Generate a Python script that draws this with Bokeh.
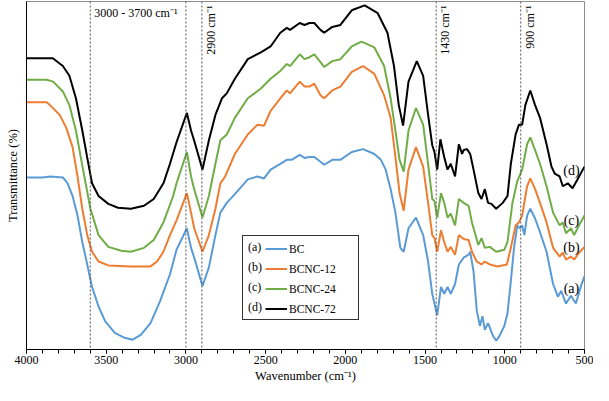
import math
from bokeh.plotting import figure
from bokeh.models import (Range1d, Span, Label, Legend, LegendItem,
                          FixedTicker, SingleIntervalTicker)
from bokeh.embed import file_html
from bokeh.resources import INLINE

FONT = "Liberation Serif"

# ---------------- data (wavenumber cm-1, transmittance a.u.) ----------------
series_names = ["BC", "BCNC-12", "BCNC-24", "BCNC-72"]
series_tags = ["(a)", "(b)", "(c)", "(d)"]
series_colors = ["#5B9BD5", "#ED7D31", "#70AD47", "#000000"]

bc = [(4000,176),(3900,176),(3850,177),(3772,176),(3742,170),(3711,157),(3680,137),(3650,110),
      (3619,87),(3589,64),(3548,44),(3507,29),(3446,17),(3385,12),(3334,10),(3283,15),(3222,27),
      (3161,50),(3100,77),(3059,102),(2994,124),(2968,104),(2948,94),(2896,65),(2856,84),(2815,117),
      (2784,140),(2744,150),(2693,159),(2612,174),(2551,177),(2510,175),(2469,184),(2408,190),
      (2367,194),(2337,194),(2286,199),(2256,196),(2225,197),(2195,197),(2156,192),(2133,189),
      (2082,194),(2031,194),(1960,202),(1889,205),(1818,200),(1777,194),(1747,184),(1716,164),
      (1686,140),(1655,104),(1634,100),(1604,124),(1557,135),(1512,117),(1481,90),(1455,57),
      (1441,47),(1424,35),(1400,64),(1380,57),(1359,64),(1339,57),(1312,67),(1288,87),(1258,94),
      (1227,97),(1217,100),(1196,80),(1176,40),(1156,24),(1140,34),(1125,20),(1105,27),(1074,14),
      (1054,9),(1033,14),(1003,24),(983,37),(962,70),(942,104),(922,127),(906,124),(891,127),
      (877,117),(860,137),(840,144),(810,134),(779,120),(738,100),(697,67),(667,54),(646,60),
      (616,47),(585,55),(554,47),(524,64),(500,75)]

bcnc12 = [(4000,253),(3874,253),(3853,250),(3792,240),(3751,227),(3711,207),(3680,177),(3650,144),
          (3619,117),(3589,100),(3548,90),(3487,86),(3345,85),(3222,85),(3181,90),(3141,100),
          (3100,117),(3059,132),(2994,160),(2968,140),(2948,124),(2896,100),(2856,117),(2815,144),
          (2784,170),(2754,177),(2693,200),(2612,220),(2551,230),(2510,229),(2469,244),(2408,257),
          (2367,265),(2347,262),(2286,274),(2256,269),(2225,269),(2195,272),(2156,260),(2133,257),
          (2082,265),(2031,269),(1960,284),(1889,290),(1818,282),(1757,260),(1716,237),(1686,197),
          (1660,160),(1634,142),(1604,184),(1557,207),(1512,187),(1481,150),(1455,117),(1441,114),
          (1424,100),(1400,122),(1380,110),(1359,100),(1339,105),(1312,97),(1288,117),(1258,113),
          (1227,112),(1206,100),(1176,90),(1146,87),(1125,90),(1094,87),(1044,85),(987,87),(962,104),
          (932,127),(911,130),(891,137),(860,167),(840,175),(810,164),(779,150),(738,130),(697,104),
          (656,95),(636,99),(616,92),(585,95),(565,92),(534,99),(500,105)]

bcnc24 = [(4000,276),(3874,276),(3833,274),(3772,264),(3731,250),(3690,224),(3660,197),(3629,170),
          (3599,144),(3548,117),(3487,105),(3406,101),(3345,100),(3263,104),(3202,112),(3141,130),
          (3080,157),(3059,170),(2994,202),(2968,177),(2948,164),(2896,135),(2856,157),(2815,190),
          (2784,214),(2744,220),(2693,237),(2612,257),(2530,267),(2469,277),(2408,285),(2367,292),
          (2347,290),(2286,302),(2256,297),(2225,299),(2195,302),(2156,294),(2133,289),(2082,295),
          (2031,297),(1960,310),(1899,315),(1818,309),(1757,290),(1716,257),(1686,224),(1660,194),
          (1634,182),(1604,224),(1557,247),(1512,230),(1481,190),(1455,154),(1441,152),(1424,135),
          (1400,160),(1380,150),(1359,135),(1339,139),(1312,127),(1288,154),(1258,150),(1227,147),
          (1206,130),(1166,107),(1146,114),(1125,104),(1094,105),(1054,100),(1003,102),(983,110),
          (952,150),(922,172),(891,184),(860,210),(840,217),(810,204),(779,190),(738,167),(697,140),
          (656,127),(636,130),(616,119),(585,124),(565,117),(534,127),(500,137)]

bcnc72 = [(4000,298),(3900,298),(3835,298),(3772,290),(3731,280),(3690,257),(3650,224),(3620,197),
          (3589,170),(3548,157),(3487,149),(3426,145),(3345,144),(3263,147),(3202,154),(3141,170),
          (3100,190),(3059,212),(2994,242),(2968,224),(2949,214),(2896,184),(2856,214),(2815,240),
          (2774,257),(2744,262),(2693,277),(2612,297),(2530,304),(2469,310),(2408,324),(2367,329),
          (2347,327),(2286,334),(2256,332),(2225,334),(2195,334),(2156,327),(2133,324),(2082,330),
          (2031,332),(1960,347),(1879,352),(1797,344),(1736,324),(1695,290),(1665,250),(1638,229),
          (1604,274),(1552,295),(1512,280),(1481,240),(1455,209),(1441,202),(1424,184),(1404,215),
          (1380,197),(1359,184),(1339,190),(1312,177),(1288,210),(1268,200),(1258,204),(1237,205),
          (1217,200),(1196,184),(1166,160),(1146,154),(1125,164),(1105,150),(1084,149),(1054,144),
          (1013,150),(983,157),(962,190),(932,220),(911,230),(891,230),(871,250),(840,265),(810,250),
          (779,237),(738,210),(707,187),(687,180),(656,177),(636,167),(605,170),(575,165),(544,174),
          (524,180),(500,187)]

series_data = [bc, bcnc12, bcnc24, bcnc72]

band_wn = [3600, 3000, 2900, 1430, 900]
range_text = "3000 - 3700 cm\u207b\u00b9"
band_labels = [(2900, "2900 cm\u207b\u00b9"), (1430, "1430 cm\u207b\u00b9"), (900, "900 cm\u207b\u00b9")]
tag_positions = [(582, 62), (582, 104), (582, 132), (582, 183)]

X_START, X_END = 4000, 500
Y_MIN, Y_MAX = 0, 356

# ---------------- figure ----------------
p = figure(width=593, height=385, x_range=Range1d(X_START, X_END), y_range=Range1d(Y_MIN, Y_MAX),
           output_backend="svg", toolbar_location=None,
           min_border_left=26, min_border_right=9, min_border_top=1, min_border_bottom=36)
p.background_fill_color = "white"
p.border_fill_color = "white"
p.outline_line_color = "#8c8c8c"
p.outline_line_width = 1
p.xgrid.visible = False
p.ygrid.visible = False

# x axis
xa = p.xaxis[0]
xa.ticker = SingleIntervalTicker(interval=500, num_minor_ticks=5)
xa.axis_label = "Wavenumber (cm\u207b\u00b9)"
xa.axis_label_text_font = FONT
xa.axis_label_text_font_style = "normal"
xa.axis_label_text_font_size = "12.5px"
xa.axis_label_text_color = "#000000"
xa.axis_label_standoff = 2
xa.major_label_text_font = FONT
xa.major_label_text_font_size = "12px"
xa.major_label_text_color = "#000000"
xa.major_label_standoff = 2
xa.axis_line_color = "#000000"
xa.major_tick_line_color = "#000000"
xa.minor_tick_line_color = "#000000"
xa.major_tick_in = 0
xa.major_tick_out = 4
xa.minor_tick_in = 0
xa.minor_tick_out = 4

# y axis (no ticks, label only)
ya = p.yaxis[0]
ya.ticker = FixedTicker(ticks=[])
ya.axis_label = "Transmittance (%)"
ya.axis_label_text_font = FONT
ya.axis_label_text_font_style = "normal"
ya.axis_label_text_font_size = "12.5px"
ya.axis_label_text_color = "#000000"
ya.axis_label_standoff = 7
ya.major_tick_out = 0
ya.minor_tick_out = 0
ya.major_label_standoff = 0
ya.axis_line_color = "#000000"

# dashed band markers
for wn in band_wn:
    p.add_layout(Span(location=wn, dimension="height", line_color="#555555",
                      line_width=1, line_dash="2 2"))

# spectra
renderers = []
for data, color in zip(series_data, series_colors):
    xs = [d[0] for d in data]
    ys = [d[1] for d in data]
    r = p.line(x=xs, y=ys, line_color=color, line_width=2)
    renderers.append(r)

# band annotations
p.add_layout(Label(x=band_wn[0], y=Y_MAX, x_offset=4, y_offset=-4, text=range_text,
                   text_align="left", text_baseline="top", text_font=FONT,
                   text_font_size="12px", text_color="#000000"))
for wn, txt in band_labels:
    p.add_layout(Label(x=wn, y=Y_MAX, x_offset=2, y_offset=-4, text=txt, angle=math.pi / 2,
                       text_align="right", text_baseline="top", text_font=FONT,
                       text_font_size="12px", text_color="#000000"))

# curve tags on the right
for (tx, ty), tag in zip(tag_positions, series_tags):
    p.add_layout(Label(x=tx, y=ty, text=tag, text_align="center", text_baseline="middle",
                       text_font=FONT, text_font_size="14px", text_color="#000000"))

# legend: an outer framed legend carrying the (a)-(d) tags, and an inner
# frameless legend carrying the line samples and the sample names
LEG_X, LEG_Y, LEG_PAD = 216, 29, 2
common = dict(padding=LEG_PAD, margin=0, spacing=1, glyph_height=19, label_height=19,
              label_text_color="#000000")
outer = Legend(items=[LegendItem(label=t, renderers=[r]) for t, r in zip(series_tags, renderers)],
               location=(LEG_X, LEG_Y), glyph_width=0, label_standoff=3, label_width=108,
               label_text_font=FONT, label_text_font_size="12px",
               border_line_color="#333333", border_line_width=1, border_line_alpha=1.0,
               background_fill_color="white", background_fill_alpha=0.0, **common)
inner = Legend(items=[LegendItem(label=n, renderers=[r]) for n, r in zip(series_names, renderers)],
               location=(LEG_X + 21, LEG_Y), glyph_width=22, label_standoff=2,
               label_text_font=FONT, label_text_font_size="11.5px",
               border_line_alpha=0.0, background_fill_alpha=0.0, **common)
p.add_layout(outer)
p.add_layout(inner)

open("out.html", "w").write(file_html(p, INLINE))
